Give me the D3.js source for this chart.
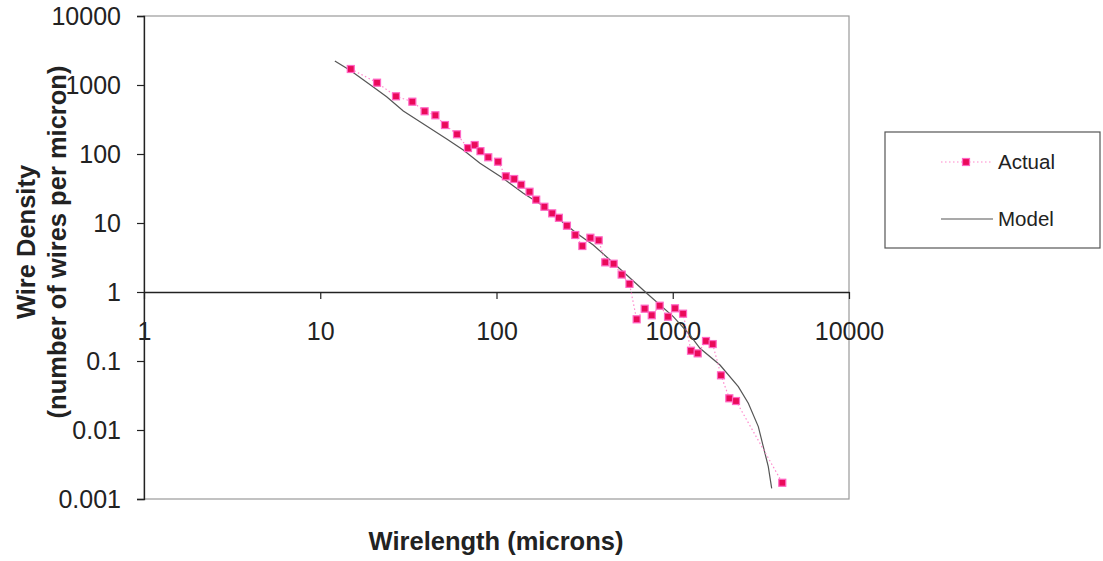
<!DOCTYPE html>
<html><head><meta charset="utf-8">
<script src="https://cdn.jsdelivr.net/npm/d3@7"></script>
<style>body{margin:0;background:#fff}svg{display:block}text{font-family:"Liberation Sans",Arial,sans-serif;fill:#222}</style>
</head><body>
<svg id="c" width="1103" height="561"></svg>
<script>
const actualX = [14.9,21.0,26.9,33.3,39.1,45.0,51.0,59.7,68.9,75.2,81.1,89.8,102,113,126,138,154,168,187,207,226,251,280,307,341,380,414,462,513,568,624,693,760,843,940,1030,1144,1269,1385,1544,1685,1878,2094,2285,4183];
const actualY = [1706,1080,686,573,416,364,263,193,122,135,110,89.6,77.3,47.5,43.4,35.9,28.4,21.8,17.2,13.8,11.9,9.14,6.70,4.64,6.12,5.61,2.69,2.57,1.79,1.31,0.402,0.573,0.460,0.633,0.439,0.580,0.485,0.141,0.129,0.195,0.176,0.062,0.0288,0.0263,0.00172];
const modelX = [12.1,14.9,19.9,23.8,29.6,36.8,52.2,64.8,80.6,109,142,187,229,285,354,441,548,712,1007,1253,1427,1854,2355,2684,3058,3264,3484,3642];
const modelY = [2228,1611,945,677,420,294,165,114,73.3,44.4,26.9,17.2,11.05,7.09,4.80,2.91,1.76,0.958,0.439,0.238,0.153,0.0875,0.0424,0.0244,0.0112,0.00573,0.00294,0.00143];
const xTicks = [1,10,100,1000,10000];
const yTicks = [0.001,0.01,0.1,1,10,100,1000,10000];
const xTickLabels = ["1","10","100","1000","10000"];
const yTickLabels = ["0.001","0.01","0.1","1","10","100","1000","10000"];

const svg = d3.select("#c");
const L=144,R=849,T=16,B=499;
const x = d3.scaleLog().domain([1,10000]).range([L,R]);
const y = d3.scaleLog().domain([0.001,10000]).range([B,T]);

// plot border
svg.append("rect").attr("x",L).attr("y",T).attr("width",R-L).attr("height",B-T)
  .attr("fill","none").attr("stroke","#9a9a9a").attr("stroke-width",1.2);

// y axis
const yAxis = svg.append("g").attr("transform",`translate(${L},0)`)
  .call(d3.axisLeft(y).tickValues(yTicks).tickFormat((d,i)=>yTickLabels[i]).tickSize(7).tickPadding(16));
yAxis.select(".domain").attr("stroke","#222").attr("stroke-width",1.3);
yAxis.selectAll(".tick line").attr("stroke","#222").attr("stroke-width",1.2);
yAxis.selectAll("text").attr("font-size",25).attr("fill","#222").attr("font-family","Liberation Sans, Arial, sans-serif");

// x axis at y=1
const xAxis = svg.append("g").attr("transform",`translate(0,${y(1)})`)
  .call(d3.axisBottom(x).tickValues(xTicks).tickFormat((d,i)=>xTickLabels[i]).tickSize(7).tickSizeOuter(0).tickPadding(23));
xAxis.select(".domain").attr("stroke","#222").attr("stroke-width",1.3);
xAxis.selectAll(".tick line").attr("stroke","#222").attr("stroke-width",1.2);
xAxis.selectAll("text").attr("font-size",25).attr("fill","#222").attr("font-family","Liberation Sans, Arial, sans-serif");

// model line
const modelData = modelX.map((d,i)=>[d,modelY[i]]);
svg.append("path").datum(modelData)
  .attr("d",d3.line().x(d=>x(d[0])).y(d=>y(d[1])))
  .attr("fill","none").attr("stroke","#555").attr("stroke-width",1.2);

// actual dotted line + markers
const actData = actualX.map((d,i)=>[d,actualY[i]]);
svg.append("path").datum(actData)
  .attr("d",d3.line().x(d=>x(d[0])).y(d=>y(d[1])))
  .attr("fill","none").attr("stroke","#ff88cc").attr("stroke-width",1.2).attr("stroke-dasharray","1.5,2.5");
svg.selectAll("rect.m").data(actData).enter().append("rect").attr("class","m")
  .attr("x",d=>x(d[0])-3.5).attr("y",d=>y(d[1])-3.5).attr("width",7).attr("height",7)
  .attr("fill","#ea0a5a").attr("stroke","#ff66c4").attr("stroke-width",1.2);

// axis titles
svg.append("text").attr("x",496).attr("y",550).attr("text-anchor","middle")
  .attr("font-size",25.5).attr("font-weight","bold").text("Wirelength (microns)");
svg.append("text").attr("transform","translate(35,242) rotate(-90)").attr("text-anchor","middle")
  .attr("font-size",25.5).attr("font-weight","bold").text("Wire Density");
svg.append("text").attr("transform","translate(66,242) rotate(-90)").attr("text-anchor","middle")
  .attr("font-size",25.5).attr("font-weight","bold").text("(number of wires per micron)");

// legend
const lg = svg.append("g");
lg.append("rect").attr("x",885).attr("y",132).attr("width",215).attr("height",116)
  .attr("fill","#fff").attr("stroke","#555").attr("stroke-width",1.2);
lg.append("line").attr("x1",941).attr("x2",993).attr("y1",162).attr("y2",162)
  .attr("stroke","#ff88cc").attr("stroke-width",1.2).attr("stroke-dasharray","1.5,2.5");
lg.append("rect").attr("x",962.5).attr("y",158.5).attr("width",7).attr("height",7)
  .attr("fill","#ea0a5a").attr("stroke","#ff66c4").attr("stroke-width",1.2);
lg.append("text").attr("x",998).attr("y",169).attr("font-size",20.5).text("Actual");
lg.append("line").attr("x1",941).attr("x2",993).attr("y1",219).attr("y2",219)
  .attr("stroke","#555").attr("stroke-width",1.2);
lg.append("text").attr("x",998).attr("y",226).attr("font-size",20.5).text("Model");
</script>
</body></html>
